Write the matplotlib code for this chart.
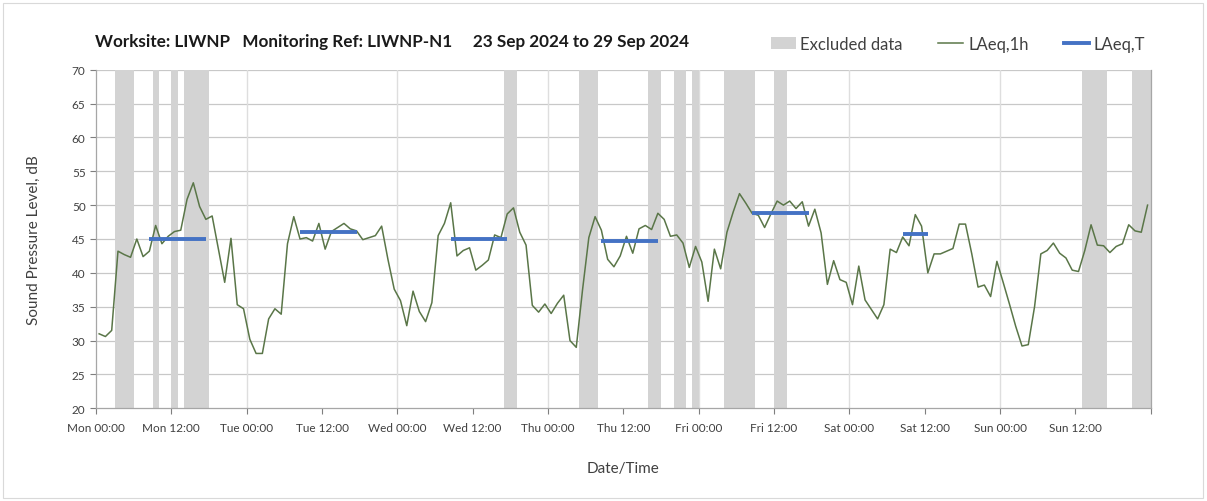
import matplotlib
matplotlib.use("Agg")
import matplotlib.pyplot as plt
from matplotlib.patches import Patch, Rectangle
from matplotlib.lines import Line2D

plt.rcParams['font.family'] = ['Lato', 'DejaVu Sans']

# Hourly LAeq,1h values (hour index 0..167, Mon 00:00 -> Sun 23:00)
laeq_1h = [
    31.0, 30.6, 31.5, 43.2, 42.7, 42.3, 45.0, 42.4, 43.2, 47.0, 44.3, 45.4,
    46.1, 46.3, 50.85, 53.3, 49.8, 47.9, 48.4, 43.5, 38.6, 45.1, 35.3, 34.7,
    30.2, 28.1, 28.1, 33.2, 34.7, 33.9, 44.3, 48.3, 45.0, 45.2, 44.7, 47.3,
    43.5, 46.1, 46.7, 47.3, 46.5, 46.2, 44.9, 45.2, 45.5, 46.9, 42.0, 37.6,
    35.9, 32.2, 37.3, 34.3, 32.8, 35.6, 45.5, 47.3, 50.35, 42.5, 43.3, 43.7,
    40.4, 41.1, 41.9, 45.6, 45.2, 48.7, 49.6, 46.0, 44.1, 35.2, 34.2, 35.4,
    34.0, 35.5, 36.7, 30.0, 29.0, 37.5, 45.2, 48.3, 46.3, 42.0, 40.9, 42.5,
    45.4, 42.9, 46.5, 47.0, 46.4, 48.8, 47.9, 45.4, 45.6, 44.4, 40.8, 43.9,
    41.6, 35.8, 43.5, 40.6, 46.0, 49.0, 51.7, 50.3, 48.8, 48.5, 46.7, 48.7,
    50.6, 50.0, 50.6, 49.5, 50.5, 46.9, 49.4, 45.9, 38.3, 41.8, 39.0, 38.6,
    35.3, 41.0, 36.0, 34.6, 33.2, 35.3, 43.5, 43.0, 45.3, 44.0, 48.6, 46.9,
    40.0, 42.8, 42.8, 43.2, 43.6, 47.2, 47.2, 42.8, 37.9, 38.2, 36.5, 41.7,
    38.6, 35.4, 32.1, 29.2, 29.4, 35.0, 42.8, 43.3, 44.4, 42.9, 42.2, 40.4,
    40.2, 43.3, 47.1, 44.1, 44.0, 43.0, 43.9, 44.3, 47.1, 46.2, 46.0, 50.0,
]

# Excluded hours (hour index)
excluded_hours = [3, 4, 5, 9, 12, 14, 15, 16, 17, 65, 66, 77, 78, 79, 88, 89,
                  92, 93, 95, 100, 101, 102, 103, 104, 108, 109,
                  157, 158, 159, 160, 165, 166, 167]

# LAeq,T periods: first hour, last hour, level
laeqT_start = [8, 32, 56, 80, 104, 128]
laeqT_end = [17, 41, 65, 89, 113, 132]
laeqT_value = [45.0, 46.0, 45.0, 44.7, 48.9, 45.75]

tick_labels = ["Mon 00:00", "Mon 12:00", "Tue 00:00", "Tue 12:00", "Wed 00:00",
               "Wed 12:00", "Thu 00:00", "Thu 12:00", "Fri 00:00", "Fri 12:00",
               "Sat 00:00", "Sat 12:00", "Sun 00:00", "Sun 12:00", ""]

title = "Worksite: LIWNP   Monitoring Ref: LIWNP-N1     23 Sep 2024 to 29 Sep 2024"

W, H = 1207, 502
fig = plt.figure(figsize=(W / 100, H / 100), dpi=100)
ax = fig.add_axes([96 / W, 1 - 409.3 / H, (1150.7 - 96) / W, (409.3 - 70.7) / H])

band_color = '#d3d3d3'
line_color = '#5a7648'
blue = '#4472c4'

ymin, ymax = 20, 70
ax.bar(excluded_hours, [ymax - ymin] * len(excluded_hours), bottom=ymin,
       width=1.0, align='edge', color=band_color, linewidth=0, zorder=1)

xs = [h + 0.5 for h in range(len(laeq_1h))]
ax.plot(xs, laeq_1h, color=line_color, lw=1.1, zorder=3)

for s, e, v in zip(laeqT_start, laeqT_end, laeqT_value):
    ax.plot([s + 0.5, e + 0.5], [v, v], color=blue, lw=2.8,
            solid_capstyle='butt', zorder=4)

ax.set_xlim(0, 168)
ax.set_ylim(ymin, ymax)
ax.set_yticks(range(20, 71, 5))
ax.set_xticks(range(0, 169, 12))
ax.set_xticklabels(tick_labels)
ax.tick_params(axis='both', labelsize=8.5, colors='#7f7f7f', length=4,
               width=0.8, labelcolor='#404040')
ax.tick_params(axis='x', pad=6)

for y in range(25, 71, 5):
    ax.axhline(y, color='#c8c8c8', lw=0.9, zorder=0.5)
for d in range(1, 7):
    ax.axvline(d * 24, color='#dedede', lw=1.0, zorder=0.5)

for side in ['left', 'bottom', 'right', 'top']:
    ax.spines[side].set_color('#a6a6a6')
    ax.spines[side].set_linewidth(0.9)
ax.spines['top'].set_visible(False)

ax.set_ylabel("Sound Pressure Level, dB", fontsize=11, color='#404040', labelpad=22)
ax.set_xlabel("Date/Time", fontsize=11, color='#404040', labelpad=20)

fig.text(95 / W, 1 - 42 / H, title, fontsize=12.3, fontweight='bold',
         color='#1a1a1a', ha='left', va='center')

handles = [Patch(facecolor=band_color, edgecolor='none'),
           Line2D([], [], color=line_color, lw=1.1),
           Line2D([], [], color=blue, lw=2.8)]
labels = ["Excluded data", "LAeq,1h", "LAeq,T"]
fig.legend(handles, labels, loc='center right',
           bbox_to_anchor=(1145 / W, 1 - 45 / H), ncol=3, frameon=False,
           fontsize=12, handlelength=1.5, handletextpad=0.3,
           columnspacing=2.1, labelcolor='#404040',
           borderpad=0, borderaxespad=0)

fig.patches.append(Rectangle((3 / W, 3 / H), 1 - 7 / W, 1 - 7 / H,
                             transform=fig.transFigure, fill=False,
                             edgecolor='#d9d9d9', lw=0.8))

fig.savefig("out.png", dpi=100)
